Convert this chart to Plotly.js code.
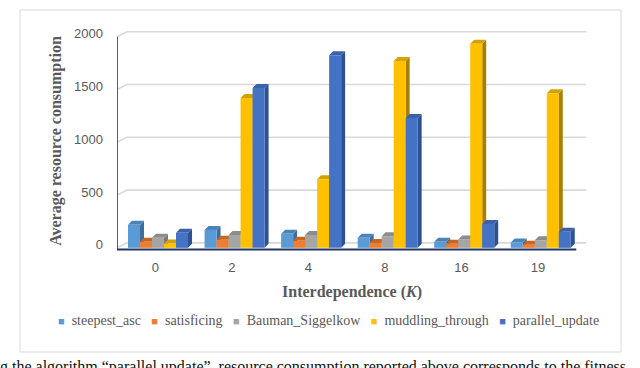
<!DOCTYPE html>
<html>
<head>
<meta charset="utf-8">
<script src="https://cdn.plot.ly/plotly-3.0.1.min.js"></script>
<style>
  html, body { margin: 0; padding: 0; background: #fff; }
  #chart { width: 640px; height: 368px; }
</style>
</head>
<body>
<div id="chart"></div>
<script>
// values
var kLabels = ["0", "2", "4", "8", "16", "19"];
var seriesNames = ["steepest_asc", "satisficing", "Bauman_Siggelkow", "muddling_through", "parallel_update"];
var steepestAsc = [218, 170, 133, 95, 57, 50];
var satisficing = [57, 76, 66, 47, 38, 30];
var baumanSiggelkow = [95, 122, 122, 110, 80, 72];
var muddlingThrough = [40, 1420, 650, 1770, 1935, 1465];
var parallelUpdate = [142, 1515, 1825, 1230, 227, 152];
var yTicks = [0, 500, 1000, 1500, 2000];

var frontColors = ["#5B9BD5", "#ED7D31", "#A5A5A5", "#FFC000", "#4472C4"];
var sideColors = ["#3D6E9C", "#A9561C", "#7A7A7A", "#A87F00", "#2D5191"];
var topColors = ["#4C83B8", "#C8651F", "#8C8C8C", "#D4A200", "#3A62A8"];

(function () {
  var allSeries = [steepestAsc, satisficing, baumanSiggelkow, muddlingThrough, parallelUpdate];

  // plot box in pixels
  var M = { l: 117, r: 53, t: 31, b: 117 };
  var W = 640, H = 368;
  var plotW = W - M.l - M.r;
  var plotH = H - M.t - M.b;
  var xRange = [-0.5, 5.64];
  var yRange = [-30, 2055];
  var pxPerX = plotW / (xRange[1] - xRange[0]);
  var pxPerY = plotH / (yRange[1] - yRange[0]);

  function px2paperX(px) { return (px - M.l) / plotW; }
  function px2paperY(py) { return (H - M.b - py) / plotH; }

  // 3D depth, in pixels turned into data units
  var barDx = 4 / pxPerX, barDy = 4 / pxPerY;
  var wallDx = 10 / pxPerX, wallDy = 5 / pxPerY;
  var barW = 12 / pxPerX;
  var groupStart = -0.356;

  var xIdx = kLabels.map(function (k, i) { return i; });

  var traces = allSeries.map(function (vals, j) {
    return {
      type: "bar",
      name: seriesNames[j],
      x: xIdx,
      y: vals,
      width: barW,
      offset: groupStart + j * barW,
      marker: { color: frontColors[j], line: { width: 0 } },
      showlegend: false,
      hoverinfo: "x+y+name",
    };
  });

  var shapes = [];

  // frame round the chart
  shapes.push({
    type: "rect", xref: "paper", yref: "paper",
    x0: px2paperX(20), x1: px2paperX(621), y0: px2paperY(352), y1: px2paperY(10),
    line: { color: "#d9d9d9", width: 1 }, fillcolor: "rgba(0,0,0,0)", layer: "below",
  });

  // back wall gridlines
  yTicks.forEach(function (v) {
    shapes.push({
      type: "path", xref: "x", yref: "y", layer: "between",
      path: "M" + xRange[0] + "," + v +
        " L" + (xRange[0] + wallDx) + "," + (v + wallDy) +
        " L" + (5.5 + wallDx) + "," + (v + wallDy),
      line: { color: "#d9d9d9", width: 1.6 },
    });
  });

  // side and top faces of the bars
  xIdx.forEach(function (i) {
    allSeries.forEach(function (vals, j) {
      var v = vals[i];
      var x0 = i + groupStart + j * barW;
      var x1 = x0 + barW;
      shapes.push({
        type: "path", xref: "x", yref: "y", layer: "between",
        path: "M" + x1 + ",0 L" + (x1 + barDx) + "," + barDy +
          " L" + (x1 + barDx) + "," + (v + barDy) + " L" + x1 + "," + v + " Z",
        fillcolor: sideColors[j], line: { width: 0 },
      });
      shapes.push({
        type: "path", xref: "x", yref: "y", layer: "between",
        path: "M" + x0 + "," + v + " L" + x1 + "," + v +
          " L" + (x1 + barDx) + "," + (v + barDy) + " L" + (x0 + barDx) + "," + (v + barDy) + " Z",
        fillcolor: topColors[j], line: { width: 0 },
      });
    });
  });

  // axis lines
  var baseY = -(1.7 / pxPerY);
  shapes.push({
    type: "line", xref: "x", yref: "y", layer: "above",
    x0: xRange[0], x1: xRange[0], y0: baseY, y1: 2000,
    line: { color: "#1F3864", width: 1.6 },
  });
  shapes.push({
    type: "line", xref: "x", yref: "y", layer: "above",
    x0: xRange[0], x1: 5.5, y0: baseY, y1: baseY,
    line: { color: "#1F3864", width: 2 },
  });

  // legend line, built from the series names
  var legendText = seriesNames.map(function (n, j) {
    return '<span style="color:' + frontColors[j] + ';font-size:11px">\u25A0</span>&nbsp; ' + n;
  }).join("&nbsp;&nbsp;&nbsp;");

  var annotations = [
    {
      xref: "paper", yref: "paper", x: px2paperX(328), y: px2paperY(320),
      xanchor: "center", yanchor: "middle", showarrow: false,
      text: legendText,
      font: { family: "Liberation Serif", size: 14, color: "#595959" },
    },
    {
      xref: "paper", yref: "paper", x: px2paperX(-2), y: px2paperY(356),
      xanchor: "left", yanchor: "top", showarrow: false,
      text: "g the algorithm \u201Cparallel update\u201D, resource consumption reported above corresponds to the fitness",
      font: { family: "Liberation Serif", size: 16, color: "#111" },
    },
  ];

  var layout = {
    width: W, height: H,
    margin: M,
    paper_bgcolor: "#ffffff",
    plot_bgcolor: "rgba(0,0,0,0)",
    barmode: "overlay",
    showlegend: false,
    xaxis: {
      range: xRange,
      tickvals: xIdx,
      ticktext: kLabels,
      showgrid: false, zeroline: false, showline: false, ticks: "",
      ticklabelstandoff: 7,
      tickfont: { family: "Liberation Sans, sans-serif", size: 13, color: "#595959" },
      title: {
        text: "Interdependence (<i>K</i>)",
        standoff: 11,
        font: { family: "Liberation Serif, serif", size: 16, color: "#595959", weight: "bold" },
      },
      fixedrange: true,
    },
    yaxis: {
      range: yRange,
      tickvals: yTicks,
      showgrid: false, zeroline: false, showline: false, ticks: "",
      ticklabelstandoff: 13,
      ticklabelshift: -3,
      tickfont: { family: "Liberation Sans, sans-serif", size: 13, color: "#595959" },
      title: {
        text: "Average resource consumption",
        standoff: 8,
        font: { family: "Liberation Serif, serif", size: 16, color: "#595959", weight: "bold" },
      },
      fixedrange: true,
    },
    shapes: shapes,
    annotations: annotations,
  };

  Plotly.newPlot("chart", traces, layout, { displayModeBar: false, staticPlot: true });
})();
</script>
</body>
</html>
